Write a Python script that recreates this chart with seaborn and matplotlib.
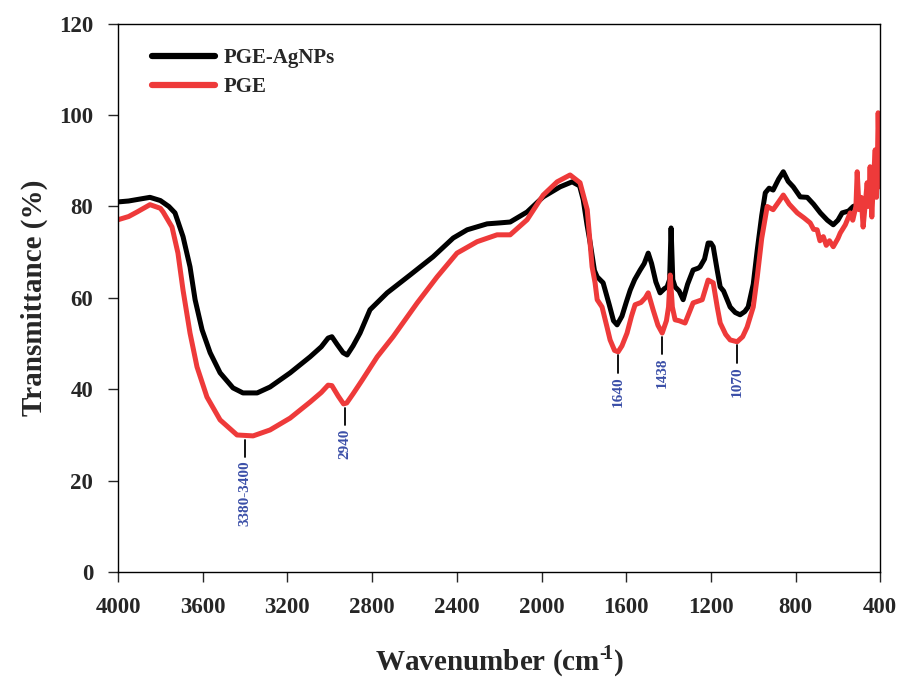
import numpy as np
import pandas as pd
import matplotlib
matplotlib.use("Agg")
import matplotlib.pyplot as plt
import seaborn as sns

# ---- data ------------------------------------------------------------------
agnp_wn = [4000, 3950, 3900, 3849, 3800, 3760, 3731, 3693, 3660, 3636, 3603, 3565,
           3518, 3457, 3410, 3343, 3282, 3187, 3093, 3040, 3008, 2990, 2965, 2937,
           2918, 2890, 2857, 2810, 2729, 2621, 2512, 2417, 2351, 2257, 2200, 2148,
           2068, 1992, 1912, 1855, 1820, 1803, 1785, 1770, 1750, 1737, 1709, 1680,
           1660, 1643, 1620, 1600, 1581, 1560, 1534, 1515, 1496, 1480, 1460, 1440,
           1420, 1407, 1395, 1388, 1380, 1369, 1350, 1331, 1310, 1284, 1260, 1251,
           1230, 1213, 1200, 1189, 1170, 1156, 1140, 1109, 1085, 1062, 1040, 1024,
           1000, 981, 960, 943, 925, 906, 880, 858, 835, 811, 778, 745, 715, 683,
           650, 622, 600, 580, 550, 528, 500, 462, 440, 424, 410, 400]
agnp_t = [81.0, 81.2, 81.6, 82.0, 81.3, 80.0, 78.6, 73.4, 66.8, 59.6, 53.0, 48.0,
          43.6, 40.3, 39.2, 39.2, 40.5, 43.6, 47.1, 49.3, 51.2, 51.5, 49.8, 48.0,
          47.5, 49.5, 52.3, 57.4, 61.1, 65.0, 69.0, 73.1, 74.9, 76.2, 76.4, 76.6,
          78.8, 82.1, 84.3, 85.4, 84.5, 81.5, 76.0, 72.0, 66.0, 64.6, 63.3, 58.5,
          55.0, 54.1, 56.0, 59.0, 61.7, 64.0, 66.1, 67.5, 69.8, 67.5, 63.5, 61.1,
          62.0, 62.4, 64.0, 75.3, 64.0, 62.4, 61.5, 59.6, 63.0, 66.1, 66.5, 66.8,
          68.5, 72.0, 72.0, 71.2, 66.0, 62.4, 61.5, 58.0, 56.8, 56.3, 57.0, 58.0,
          63.0, 70.5, 78.0, 83.0, 84.0, 83.6, 86.0, 87.6, 85.5, 84.3, 82.1, 82.0,
          80.5, 78.6, 77.0, 76.0, 77.0, 78.6, 79.0, 80.0, 80.5, 81.5, 82.5, 83.6,
          84.5, 86.0]

pge_wn = [4000, 3950, 3910, 3849, 3800, 3787, 3745, 3717, 3693, 3660, 3627, 3580,
          3518, 3438, 3362, 3282, 3187, 3093, 3040, 3008, 2990, 2960, 2935, 2920,
          2890, 2847, 2776, 2701, 2587, 2493, 2399, 2304, 2210, 2148, 2068, 1992,
          1926, 1865, 1818, 1784, 1761, 1747, 1737, 1714, 1690, 1676, 1655, 1638,
          1620, 1596, 1575, 1558, 1530, 1510, 1496, 1473, 1450, 1430, 1410, 1400,
          1392, 1382, 1369, 1350, 1322, 1284, 1241, 1213, 1189, 1170, 1156, 1130,
          1109, 1076, 1050, 1029, 1000, 981, 960, 934, 906, 880, 858, 830, 792,
          760, 731, 715, 698, 685, 669, 655, 640, 622, 600, 589, 565, 542, 530,
          515, 509, 500, 490, 481, 470, 462, 455, 448, 440, 432, 424, 418, 415,
          410, 405, 402, 400]
pge_t = [77.1, 77.8, 78.8, 80.4, 79.6, 78.8, 75.5, 69.8, 61.7, 52.3, 44.9, 38.3,
         33.3, 30.0, 29.8, 31.1, 33.7, 37.2, 39.3, 40.9, 40.8, 38.5, 36.8, 37.0,
         39.0, 42.0, 47.1, 51.5, 58.9, 64.6, 69.8, 72.3, 73.8, 73.8, 77.1, 82.5,
         85.4, 86.9, 85.2, 79.3, 66.8, 63.3, 59.6, 58.0, 53.5, 50.8, 48.5, 48.2,
         49.5, 52.3, 56.0, 58.5, 59.0, 60.0, 61.1, 57.4, 54.0, 52.3, 55.0, 58.0,
         65.0, 58.0, 55.2, 55.0, 54.5, 58.9, 59.6, 63.9, 63.3, 58.0, 54.5, 52.0,
         50.8, 50.4, 51.5, 53.6, 58.0, 64.6, 73.0, 80.0, 79.3, 81.0, 82.5, 80.5,
         78.6, 77.5, 76.4, 75.0, 74.9, 72.5, 73.4, 71.5, 72.5, 71.2, 73.0, 74.2,
         76.0, 78.6, 77.0, 80.0, 87.6, 79.3, 82.0, 75.5, 81.0, 85.2, 80.0, 88.7,
         77.7, 86.0, 92.4, 82.0, 85.2, 100.5, 90.0, 97.0, 84.3]

peak_labels = ["3380-3400", "2940", "1640", "1438", "1070"]
peak_wn = [3400, 2930, 1638, 1430, 1076]
peak_t = [29.8, 36.8, 48.2, 52.3, 50.4]

x_ticks = [4000, 3600, 3200, 2800, 2400, 2000, 1600, 1200, 800, 400]
y_ticks = [0, 20, 40, 60, 80, 100, 120]

# ---- style ------------------------------------------------------------------
sns.set_style("ticks")
plt.rcParams["font.family"] = ["Liberation Serif", "DejaVu Serif"]
plt.rcParams["font.weight"] = "bold"
plt.rcParams["axes.labelweight"] = "bold"
plt.rcParams["mathtext.fontset"] = "custom"
plt.rcParams["mathtext.rm"] = "Liberation Serif:bold"
plt.rcParams["mathtext.bf"] = "Liberation Serif:bold"

fig = plt.figure(figsize=(9.01, 6.77), dpi=100)
ax = fig.add_axes([0.131, 0.155, 0.846, 0.81])

agnp = pd.DataFrame({"wn": agnp_wn, "T": agnp_t})
pge = pd.DataFrame({"wn": pge_wn, "T": pge_t})

sns.lineplot(data=agnp, x="wn", y="T", color="black", lw=3.6,
             estimator=None, label="PGE-AgNPs", ax=ax)
sns.lineplot(data=pge, x="wn", y="T", color="#ee3a3a", lw=3.6,
             estimator=None, label="PGE", ax=ax)

# peak markers
for lab, w, t in zip(peak_labels, peak_wn, peak_t):
    ax.plot([w, w], [t - 0.8, t - 4.6], color="black", lw=1.3)
    ax.text(w, t - 5.4, lab, rotation=90, ha="center", va="top",
            fontsize=11, color="#3b4fa8", fontweight="bold")

ax.set_xlim(4000, 400)
ax.set_ylim(0, 120)
ax.set_xticks(x_ticks)
ax.set_yticks(y_ticks)
ax.tick_params(axis="both", direction="out", length=7, width=1,
               labelsize=16.5, pad=11)
for s in ax.spines.values():
    s.set_linewidth(1.0)
    s.set_color("black")

ax.set_xlabel("Wavenumber (cm$^{\u2010\\!1}$)", fontsize=21, labelpad=18)
ax.set_ylabel("Transmittance (%)", fontsize=21, labelpad=8)

leg = ax.legend(loc="upper left", bbox_to_anchor=(0.02, 0.99), frameon=False,
                fontsize=15, handlelength=3.0, handletextpad=0.45,
                labelspacing=0.45)
for h in leg.get_lines():
    h.set_linewidth(4.5)

fig.savefig("out.png", dpi=100)
